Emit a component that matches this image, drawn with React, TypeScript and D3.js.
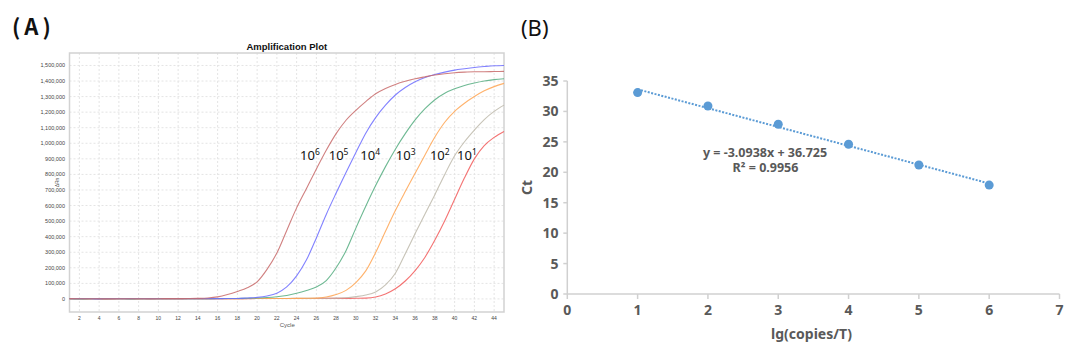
import * as d3 from 'd3';
import { useEffect, useRef } from 'react';

// panel A: amplification curves, one series per dilution (ΔRn per cycle)
const cycles = [
  1, 2, 3, 4, 5, 6, 7, 8, 9, 10, 11, 12, 13, 14, 15, 16, 17, 18, 19, 20, 21, 22, 23, 24, 25, 26, 27, 28, 29, 30,
  31, 32, 33, 34, 35, 36, 37, 38, 39, 40, 41, 42, 43, 44, 45,
];
const rn6 = [
  2000, 1000, 1500, 1000, 500, 1000, 1500, 1000, 1000, 1500, 2000, 2000, 2500, 3500, 6000, 13000, 28000, 48000,
  72000, 110000, 190000, 295000, 440000, 585000, 710000, 835000, 955000, 1062000, 1148000, 1212000, 1268000,
  1318000, 1352000, 1378000, 1398000, 1414000, 1427000, 1439000, 1447000, 1453000, 1457000, 1460000, 1460000,
  1461000, 1462000,
];
const rn5 = [
  1000, 1500, 1000, 500, 1000, 1000, 1500, 1000, 1000, 1500, 1000, 1000, 1500, 2000, 2000, 2000, 2500, 3000, 6000,
  10000, 19000, 37000, 77000, 148000, 251000, 392000, 543000, 680000, 812000, 940000, 1065000, 1165000, 1245000,
  1310000, 1358000, 1395000, 1422000, 1442000, 1457000, 1470000, 1479000, 1487000, 1493000, 1498000, 1500000,
];
const rn4 = [
  1000, 500, 1000, 1500, 1000, 1000, 500, 1000, 1500, 1000, 1000, 1500, 1500, 2000, 2000, 2500, 2500, 3000, 4000,
  6000, 9000, 14000, 22000, 36000, 54000, 76000, 118000, 200000, 310000, 455000, 595000, 728000, 850000, 962000,
  1062000, 1150000, 1222000, 1280000, 1322000, 1350000, 1371000, 1387000, 1400000, 1409000, 1415000,
];
const rn3 = [
  1500, 1000, 500, 1000, 1000, 1500, 1000, 500, 1000, 1000, 1500, 1000, 1000, 1500, 1500, 2000, 2000, 2000, 2500,
  2500, 3000, 3000, 3000, 3500, 4000, 5000, 12000, 28000, 55000, 105000, 180000, 298000, 435000, 568000, 690000,
  808000, 925000, 1040000, 1135000, 1205000, 1257000, 1300000, 1337000, 1364000, 1385000,
];
const rn2 = [
  1000, 1000, 1500, 1000, 500, 1000, 1000, 1500, 1000, 1000, 1000, 1500, 1500, 1000, 1500, 2000, 2000, 2000, 2500,
  2500, 3000, 3000, 3000, 3500, 3500, 4000, 4500, 5000, 8000, 15000, 25000, 45000, 90000, 165000, 290000, 420000,
  545000, 670000, 800000, 920000, 1010000, 1085000, 1152000, 1205000, 1245000,
];
const rn1 = [
  1500, 1000, 1000, 500, 1000, 1500, 1000, 1000, 500, 1000, 1500, 1000, 1000, 1500, 1500, 1500, 2000, 2000, 2000,
  2500, 2500, 2500, 3000, 3000, 3000, 3000, 3500, 3500, 3500, 4000, 5000, 12000, 32000, 65000, 115000, 182000,
  268000, 378000, 502000, 640000, 778000, 900000, 985000, 1038000, 1076000,
];
const amplSeries = [rn6, rn5, rn4, rn3, rn2, rn1];
const exponents = ['6', '5', '4', '3', '2', '1'];
const curveColors = ['#c86a6a', '#6c6cff', '#55ad80', '#ffa552', '#bdb8aa', '#f25a5a'];
// where each "10^n" tag sits (cycle of its left edge, ΔRn of its baseline)
const labelCycles = [24.35, 27.25, 30.45, 34.05, 37.5, 40.25];
const labelRn = 890000;
const cycleTicks = [2, 4, 6, 8, 10, 12, 14, 16, 18, 20, 22, 24, 26, 28, 30, 32, 34, 36, 38, 40, 42, 44];
const rnTicks = [
  0, 100000, 200000, 300000, 400000, 500000, 600000, 700000, 800000, 900000, 1000000, 1100000, 1200000, 1300000,
  1400000, 1500000,
];

// panel B: standard curve
const lgCopies = [1, 2, 3, 4, 5, 6];
const ctValues = [33.1, 30.9, 27.9, 24.6, 21.2, 17.9];
const fitSlope = -3.0938;
const fitIntercept = 36.725;
const fitR2 = 0.9956;
const lgTicks = [0, 1, 2, 3, 4, 5, 6, 7];
const ctTicks = [0, 5, 10, 15, 20, 25, 30, 35];

export default function App() {
  const svgRef = useRef<SVGSVGElement>(null);
  const w = 1080;
  const h = 353;

  useEffect(() => {
    if (svgRef.current == null) {
      return;
    }
    const svg = d3.select(svgRef.current);
    svg.selectAll('*').remove();

    // ---------- panel A ----------
    const xA = d3.scaleLinear().domain([1, 45]).range([69.5, 504]);
    const yA = d3.scaleLinear().domain([-84000, 1580000]).range([312, 53]);
    const gA = svg.append('g');

    gA.append('text')
      .attr('x', 12)
      .attr('y', 35)
      .attr('font-family', "'Noto Sans CJK SC', sans-serif")
      .attr('font-weight', 'bold')
      .attr('font-size', 22)
      .attr('letter-spacing', 4)
      .attr('fill', '#111')
      .text('(A)');

    gA.append('text')
      .attr('x', (xA.range()[0] + xA.range()[1]) / 2)
      .attr('y', 49.5)
      .attr('text-anchor', 'middle')
      .attr('font-family', "'Liberation Sans', Arial, sans-serif")
      .attr('font-weight', 'bold')
      .attr('font-size', 9.5)
      .attr('fill', '#111')
      .text('Amplification Plot');

    for (const t of cycleTicks) {
      gA.append('line')
        .attr('x1', xA(t))
        .attr('x2', xA(t))
        .attr('y1', yA.range()[1])
        .attr('y2', yA.range()[0])
        .attr('stroke', '#e4e4e4')
        .attr('stroke-dasharray', '2,2');
      gA.append('text')
        .attr('x', xA(t))
        .attr('y', 320)
        .attr('text-anchor', 'middle')
        .attr('font-family', "'Liberation Sans', Arial, sans-serif")
        .attr('font-size', 5)
        .attr('fill', '#444')
        .text(t);
    }
    for (const t of rnTicks) {
      gA.append('line')
        .attr('x1', xA.range()[0])
        .attr('x2', xA.range()[1])
        .attr('y1', yA(t))
        .attr('y2', yA(t))
        .attr('stroke', '#e4e4e4')
        .attr('stroke-dasharray', '2,2');
      gA.append('text')
        .attr('x', 65)
        .attr('y', yA(t) + 2)
        .attr('text-anchor', 'end')
        .attr('font-family', "'Liberation Sans', Arial, sans-serif")
        .attr('font-size', 5.5)
        .attr('fill', '#444')
        .text(d3.format(',')(t));
    }

    gA.append('rect')
      .attr('x', xA.range()[0])
      .attr('y', yA.range()[1])
      .attr('width', xA.range()[1] - xA.range()[0])
      .attr('height', yA.range()[0] - yA.range()[1])
      .attr('fill', 'none')
      .attr('stroke', '#d2d2d2')
      .attr('stroke-width', 1.5);

    gA.append('text')
      .attr('x', (xA.range()[0] + xA.range()[1]) / 2 + 0.5)
      .attr('y', 327)
      .attr('text-anchor', 'middle')
      .attr('font-family', "'Liberation Sans', Arial, sans-serif")
      .attr('font-size', 6)
      .attr('fill', '#555')
      .text('Cycle');

    gA.append('text')
      .attr('transform', `translate(59, ${(yA.range()[0] + yA.range()[1]) / 2}) rotate(-90)`)
      .attr('text-anchor', 'middle')
      .attr('font-family', "'Liberation Sans', Arial, sans-serif")
      .attr('font-size', 5)
      .attr('fill', '#555')
      .text('ΔRn');

    const line = d3
      .line<number>()
      .x((_, i) => xA(cycles[i]))
      .y((d) => yA(d))
      .curve(d3.curveMonotoneX);

    // draw lowest dilution first so the early curves stay on top
    for (let k = amplSeries.length - 1; k >= 0; k--) {
      gA.append('path')
        .attr('d', line(amplSeries[k]))
        .attr('fill', 'none')
        .attr('stroke', curveColors[k])
        .attr('stroke-opacity', 0.85)
        .attr('stroke-width', 1.1);
    }

    for (const [k, e] of exponents.entries()) {
      const label = gA
        .append('text')
        .attr('x', xA(labelCycles[k]))
        .attr('y', yA(labelRn))
        .attr('font-family', "'Noto Sans', sans-serif")
        .attr('font-size', 13)
        .attr('fill', '#111');
      label.append('tspan').text('10');
      label.append('tspan').attr('dy', -5).attr('font-size', 8.5).text(e);
    }

    // ---------- panel B ----------
    const xB = d3.scaleLinear().domain([0, 7]).range([567.3, 1059.5]);
    const yB = d3.scaleLinear().domain([0, 35]).range([294, 81]);
    const gB = svg.append('g');
    const axisGrey = '#d0d0d0';
    const textGrey = '#595959';

    gB.append('text')
      .attr('x', 521)
      .attr('y', 36)
      .attr('font-family', "'Noto Sans', sans-serif")
      .attr('font-size', 22)
      .attr('fill', '#111')
      .text('(B)');

    gB.append('line')
      .attr('x1', xB(0))
      .attr('x2', xB(0))
      .attr('y1', yB(35))
      .attr('y2', yB(0))
      .attr('stroke', axisGrey)
      .attr('stroke-width', 1.5);
    gB.append('line')
      .attr('x1', xB(0))
      .attr('x2', xB(7))
      .attr('y1', yB(0))
      .attr('y2', yB(0))
      .attr('stroke', axisGrey)
      .attr('stroke-width', 1.5);

    for (const t of ctTicks) {
      gB.append('line')
        .attr('x1', xB(0) - 4)
        .attr('x2', xB(0))
        .attr('y1', yB(t))
        .attr('y2', yB(t))
        .attr('stroke', axisGrey)
        .attr('stroke-width', 1.5);
      gB.append('text')
        .attr('x', 558.5)
        .attr('y', yB(t) + 5)
        .attr('text-anchor', 'end')
        .attr('font-family', "'Noto Sans', sans-serif")
        .attr('font-weight', 'bold')
        .attr('font-size', 14)
        .attr('fill', textGrey)
        .text(t);
    }
    for (const t of lgTicks) {
      gB.append('line')
        .attr('x1', xB(t))
        .attr('x2', xB(t))
        .attr('y1', yB(0))
        .attr('y2', yB(0) + 5)
        .attr('stroke', axisGrey)
        .attr('stroke-width', 1.5);
      gB.append('text')
        .attr('x', xB(t))
        .attr('y', 315)
        .attr('text-anchor', 'middle')
        .attr('font-family', "'Noto Sans', sans-serif")
        .attr('font-weight', 'bold')
        .attr('font-size', 14)
        .attr('fill', textGrey)
        .text(t);
    }

    gB.append('text')
      .attr('x', 811.5)
      .attr('y', 339)
      .attr('text-anchor', 'middle')
      .attr('font-family', "'Noto Sans', sans-serif")
      .attr('font-weight', 'bold')
      .attr('font-size', 14)
      .attr('fill', textGrey)
      .text('lg(copies/T)');

    gB.append('text')
      .attr('transform', `translate(532, ${(yB(0) + yB(35)) / 2}) rotate(-90)`)
      .attr('text-anchor', 'middle')
      .attr('font-family', "'Noto Sans', sans-serif")
      .attr('font-weight', 'bold')
      .attr('font-size', 14)
      .attr('fill', textGrey)
      .text('Ct');

    const x0 = lgCopies[0];
    const x1 = lgCopies[lgCopies.length - 1];
    gB.append('line')
      .attr('x1', xB(x0))
      .attr('y1', yB(fitSlope * x0 + fitIntercept))
      .attr('x2', xB(x1))
      .attr('y2', yB(fitSlope * x1 + fitIntercept))
      .attr('stroke', '#5b9bd5')
      .attr('stroke-width', 2)
      .attr('stroke-dasharray', '2,1.5');

    for (const [i, v] of ctValues.entries()) {
      gB.append('circle')
        .attr('cx', xB(lgCopies[i]))
        .attr('cy', yB(v))
        .attr('r', 4.5)
        .attr('fill', '#5b9bd5');
    }

    gB.append('text')
      .attr('x', 765)
      .attr('y', 156.5)
      .attr('text-anchor', 'middle')
      .attr('font-family', "'Noto Sans', sans-serif")
      .attr('font-weight', 'bold')
      .attr('font-size', 12.5)
      .attr('fill', textGrey)
      .text(`y = ${fitSlope}x + ${fitIntercept}`);
    gB.append('text')
      .attr('x', 765.5)
      .attr('y', 171.5)
      .attr('text-anchor', 'middle')
      .attr('font-family', "'Noto Sans', sans-serif")
      .attr('font-weight', 'bold')
      .attr('font-size', 12.5)
      .attr('fill', textGrey)
      .text(`R² = ${fitR2}`);
  }, []);

  return (
    <svg
      ref={svgRef}
      width={w}
      height={h}
      style={{ position: 'absolute', left: 0, top: 0, background: '#fff' }}
    ></svg>
  );
}
